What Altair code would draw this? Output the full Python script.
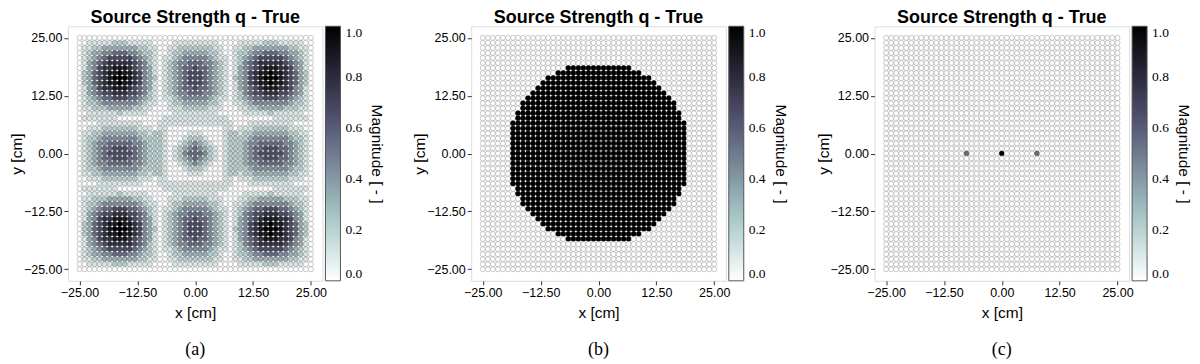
import altair as alt
import numpy as np
import pandas as pd

alt.data_transformers.disable_max_rows()

N_CELLS = 47
CENTRE = 23
grid_cm = np.linspace(-25.0, 25.0, N_CELLS)   # sensor-grid positions [cm]

# (a) magnitude, in ninths (0 = white ... 9 = black); row 0 is y = +25 cm
field_a_rows = [
    "00000000000000000000000" "0" "00000000000000000000000",
    "00111112221111100001111" "1" "11110000111112221111100",
    "01122333333322110011222" "2" "22211001122333333322110",
    "01233445554432210012233" "3" "33221001223445554433210",
    "01234566666543210112344" "4" "44321101234566666543210",
    "01345677777654210123445" "5" "54432101245677777654310",
    "01346778887654310123455" "6" "55432101345678887764310",
    "02356788988764310123456" "6" "65432101346788988765320",
    "02356789998764320123456" "6" "65432102346789998765320",
    "02356788988764310123456" "6" "65432101346788988765320",
    "01346778887654310123455" "6" "55432101345678887764310",
    "01345667776654210123445" "5" "54432101245667776654310",
    "01234556665543210112344" "4" "44321101234556665543210",
    "01223444444432110012233" "3" "33221001123444444432210",
    "01122233333221100011122" "2" "22111000112233333222110",
    "00111111211111000001111" "1" "11110000011111211111100",
    "01111111000000000111111" "1" "11111100000000011111110",
    "00001111111110001111111" "1" "11111110001111111110000",
    "00111222222211101100000" "0" "00000110111222222211100",
    "01122333333322122100001" "1" "10000122122333333322110",
    "01223444444432222100012" "2" "21000122223444444432210",
    "01234455555443222100123" "4" "32100122234455555443210",
    "01234556665543222101234" "5" "43210122234556665543210",
    "01234566666543222101245" "5" "54210122234566666543210",
    "01234556665543222101234" "5" "43210122234556665543210",
    "01234455555443222100123" "4" "32100122234455555443210",
    "01223444444432222100012" "2" "21000122223444444432210",
    "01122333333322122100001" "1" "10000122122333333322110",
    "00111222222211101100000" "0" "00000110111222222211100",
    "00001111111110001111111" "1" "11111110001111111110000",
    "01111111000000000111111" "1" "11111100000000011111110",
    "00111111211111000001111" "1" "11110000011111211111100",
    "01122233333221100011122" "2" "22111000112233333222110",
    "01223444444432110012233" "3" "33221001123444444432210",
    "01234556665543210112344" "4" "44321101234556665543210",
    "01345667776654210123445" "5" "54432101245667776654310",
    "01346778887654310123455" "6" "55432101345678887764310",
    "02356788988764310123456" "6" "65432101346788988765320",
    "02356789998764320123456" "6" "65432102346789998765320",
    "02356788988764310123456" "6" "65432101346788988765320",
    "01346778887654310123455" "6" "55432101345678887764310",
    "01345677777654210123445" "5" "54432101245677777654310",
    "01234566666543210112344" "4" "44321101234566666543210",
    "01233445554432210012233" "3" "33221001223445554433210",
    "01122333333322110011222" "2" "22211001122333333322110",
    "00111112221111100001111" "1" "11110000111112221111100",
    "00000000000000000000000" "0" "00000000000000000000000",
]

# (b) half-width (in cells) of the filled disk on each row, -1 = empty row
disk_halfwidth = [
    -1, -1, -1, -1, -1, -1, 6, 8, 10, 11, 12, 13, 14, 15, 15, 16, 16, 17, 17, 17, 17, 17, 17,
    17,
    17, 17, 17, 17, 17, 17, 16, 16, 15, 15, 14, 13, 12, 11, 10, 8, 6, -1, -1, -1, -1, -1, -1,
]

# (c) three point sources on the y = 0 row (column offsets from centre, magnitudes)
point_cols = [-7, 0, 7]
point_vals = [0.55, 1.0, 0.55]

captions = ["(a)", "(b)", "(c)"]
title_text = "Source Strength q - True"
tick_values = [-25, -12.5, 0, 12.5, 25]
cbar_values = [0.0, 0.2, 0.4, 0.6, 0.8, 1.0]

# bone_r colormap stops
bone_domain = [0.0, 0.253968, 0.634921, 1.0]
bone_range = ["#ffffff", "#a6c6c6", "#515171", "#000000"]


def frame_a():
    recs = []
    for i, row in enumerate(field_a_rows):
        assert len(row) == N_CELLS
        for j, ch in enumerate(row):
            recs.append({"x": grid_cm[j], "y": grid_cm[N_CELLS - 1 - i], "v": int(ch) / 9.0})
    return pd.DataFrame(recs)


def frame_b():
    recs = []
    for i, hw in enumerate(disk_halfwidth):
        for j in range(N_CELLS):
            inside = hw >= 0 and abs(j - CENTRE) <= hw
            recs.append({"x": grid_cm[j], "y": grid_cm[N_CELLS - 1 - i], "v": 1.0 if inside else 0.0})
    return pd.DataFrame(recs)


def frame_c():
    vals = {CENTRE + c: v for c, v in zip(point_cols, point_vals)}
    recs = []
    for i in range(N_CELLS):
        for j in range(N_CELLS):
            v = vals.get(j, 0.0) if i == CENTRE else 0.0
            recs.append({"x": grid_cm[j], "y": grid_cm[N_CELLS - 1 - i], "v": v})
    return pd.DataFrame(recs)


W = 255
H = 255


def panel(df, caption):
    axis_common = dict(
        values=tick_values, format=".2f", grid=False, domain=False,
        tickSize=4, tickColor="#333333", labelFont="Liberation Sans", labelFontSize=12.5,
        labelColor="#000000", titleFont="Liberation Sans", titleFontSize=15.5,
        titleFontWeight="normal", titleColor="#000000", labelPadding=2,
    )
    dots = alt.Chart(df).mark_circle(size=25, strokeWidth=0.6, opacity=1).encode(
        x=alt.X("x:Q", title="x [cm]",
                scale=alt.Scale(domain=[-27.5, 27.5], nice=False, zero=False),
                axis=alt.Axis(titlePadding=6, **axis_common)),
        y=alt.Y("y:Q", title="y [cm]",
                scale=alt.Scale(domain=[-27.5, 27.5], nice=False, zero=False),
                axis=alt.Axis(titlePadding=-1, **axis_common)),
        color=alt.Color("v:Q",
                        scale=alt.Scale(domain=bone_domain, range=bone_range, interpolate="rgb"),
                        legend=alt.Legend(
                            title="Magnitude [ - ]", titleOrient="right", titleAnchor="middle",
                            type="gradient", direction="vertical",
                            gradientLength=H, gradientThickness=15, offset=3,
                            values=cbar_values, format=".1f",
                            labelFont="Liberation Serif", labelFontSize=13.5, labelColor="#000000",
                            labelOffset=5,
                            gradientStrokeColor="#555555", gradientStrokeWidth=1,
                            titleFont="Liberation Sans", titleFontSize=15.5,
                            titleFontWeight="normal", titleColor="#000000", titlePadding=7)),
        stroke=alt.Stroke("v:Q", scale=alt.Scale(domain=[0, 1], range=["#a4a4a4", "#000000"]),
                          legend=None),
    )
    cap = alt.Chart(pd.DataFrame({"cap": [caption]})).mark_text(
        font="Liberation Serif", fontSize=18, align="center", baseline="middle", color="#000000"
    ).encode(text="cap:N", x=alt.value(W / 2), y=alt.value(H + 69))
    return alt.layer(dots, cap).properties(
        width=W, height=H,
        title=alt.TitleParams(title_text, font="Liberation Sans", fontSize=18,
                              fontWeight="bold", offset=-1, anchor="middle", color="#000000"),
    )


chart = alt.hconcat(
    panel(frame_a(), captions[0]),
    panel(frame_b(), captions[1]),
    panel(frame_c(), captions[2]),
    spacing=26, padding=0,
).resolve_scale(color="independent", stroke="independent").resolve_legend(
    color="independent", stroke="independent"
).configure_view(stroke="#555555", strokeWidth=1.3).configure(background="white")

chart.save("out.html", embed_options={"renderer": "svg", "actions": False})
